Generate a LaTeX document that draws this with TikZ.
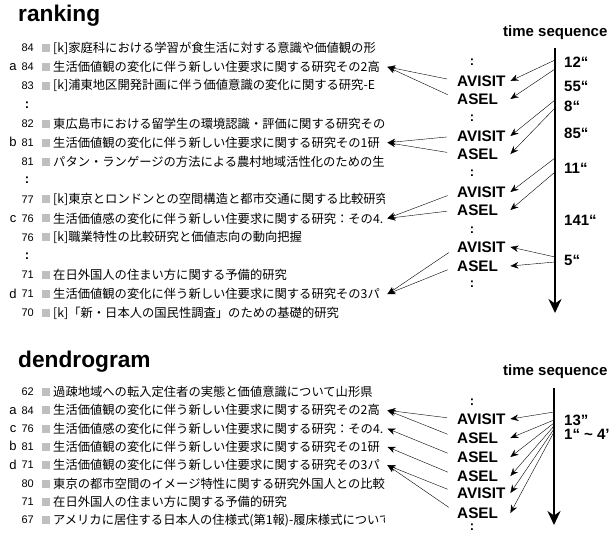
\documentclass[tikz,border=0pt]{standalone}
\usepackage{fontspec}
\setmainfont{Liberation Sans}
\newfontfamily\jp{Noto Sans CJK JP}
\usetikzlibrary{arrows.meta}

\providecommand*{\rankTop}{}
\providecommand*{\rankStep}{}
\providecommand*{\dendTop}{}
\providecommand*{\dendStep}{}
\renewcommand*{\rankTop}{48}
\renewcommand*{\rankStep}{18.93}
\renewcommand*{\dendTop}{392}
\renewcommand*{\dendStep}{18.3}

\tikzset{
  title/.style={anchor=base west,inner sep=0,font=\bfseries\fontsize{22.7}{26}\selectfont},
  header/.style={anchor=base west,inner sep=0,font=\bfseries\fontsize{15}{17}\selectfont},
  tag/.style={anchor=base,inner sep=0,font=\fontsize{13}{15}\selectfont},
  score/.style={anchor=east,inner sep=0,font=\fontsize{11}{12}\selectfont},
  sqbox/.style={inner sep=0,minimum size=8pt,fill=black!25},
  entry/.style={anchor=west,inner sep=0,font=\jp\fontsize{12.3}{14}\selectfont},
  gap/.style={inner sep=0,font=\bfseries\fontsize{13}{15}\selectfont},
  op/.style={anchor=west,inner sep=0,text width=53pt,align=left,font=\bfseries\fontsize{15.3}{17}\selectfont},
  delay/.style={anchor=west,inner sep=0,font=\bfseries\fontsize{15}{17}\selectfont},
  link/.style={thin,-{Stealth[length=8pt,width=6.5pt]}},
  back/.style={link,shorten <=10pt},
  axis/.style={line width=2.7pt,-{Stealth[length=14pt,width=13pt]}}
}

\begin{document}
\begin{tikzpicture}[x=1pt,y=-1pt]
  \useasboundingbox (0,0) rectangle (610,533);
  \node[title] (ranking) at (18,21) {ranking};
  \node[title] (dendrogram) at (18,367) {dendrogram};

  \begin{scope}
    \clip (0,0) rectangle (384,533);
    \foreach \k/\nr/\tx in {
      0/84/{[k]家庭科における学習が食生活に対する意識や価値観の形},
      1/84/{生活価値観の変化に伴う新しい住要求に関する研究その2高},
      2/83/{[k]浦東地区開発計画に伴う価値意識の変化に関する研究-E},
      4/82/{東広島市における留学生の環境認識・評価に関する研究その},
      5/81/{生活価値観の変化に伴う新しい住要求に関する研究その1研},
      6/81/{パタン・ランゲージの方法による農村地域活性化のための生活},
      8/77/{[k]東京とロンドンとの空間構造と都市交通に関する比較研究},
      9/76/{生活価値感の変化に伴う新しい住要求に関する研究：その4.},
      10/76/{[k]職業特性の比較研究と価値志向の動向把握},
      12/71/{在日外国人の住まい方に関する予備的研究},
      13/71/{生活価値観の変化に伴う新しい住要求に関する研究その3パ},
      14/70/{[k]「新・日本人の国民性調査」のための基礎的研究}} {
      \node[score] (rn\k) at (34,\rankTop+\rankStep*\k) {\nr};
      \node[sqbox] (rq\k) at (46,\rankTop+\rankStep*\k) {};
      \node[entry] (rk\k) at (53,\rankTop+\rankStep*\k) {\makebox[334pt][l]{\tx}};
    }
    \foreach \k/\nr/\tx in {
      0/62/{過疎地域への転入定住者の実態と価値意識について山形県},
      1/84/{生活価値観の変化に伴う新しい住要求に関する研究その2高},
      2/76/{生活価値感の変化に伴う新しい住要求に関する研究：その4.},
      3/81/{生活価値観の変化に伴う新しい住要求に関する研究その1研},
      4/71/{生活価値観の変化に伴う新しい住要求に関する研究その3パ},
      5/80/{東京の都市空間のイメージ特性に関する研究外国人との比較},
      6/71/{在日外国人の住まい方に関する予備的研究},
      7/67/{アメリカに居住する日本人の住様式(第1報)-履床様式について}} {
      \node[score] (dn\k) at (34,\dendTop+\dendStep*\k) {\nr};
      \node[sqbox] (dq\k) at (46,\dendTop+\dendStep*\k) {};
      \node[entry] (dg\k) at (53,\dendTop+\dendStep*\k) {\makebox[334pt][l]{\tx}};
    }
  \end{scope}

  \foreach \k in {3,7,11} {
    \node[gap] (rc\k) at (27,\rankTop+\rankStep*\k) {:};
  }
  \foreach \k/\lt in {1/a,5/b,9/c,13/d} {
    \node[tag] (rl\k) at (13,\rankTop+\rankStep*\k+4) {\lt};
  }
  \foreach \k/\lt in {1/a,2/c,3/b,4/d} {
    \node[tag] (dl\k) at (13,\dendTop+\dendStep*\k+4) {\lt};
  }

  % ranking time sequence
  \node[header] (seqA) at (503,36.5) {time sequence};
  \coordinate (axA) at (555,48);
  \coordinate (endA) at (555,313);
  \draw[axis] (axA) -- (endA);
  \foreach \nm/\tx/\y in {v1/AVISIT/81, s1/ASEL/99, v2/AVISIT/136, s2/ASEL/154,
                          v3/AVISIT/192, s3/ASEL/210, v4/AVISIT/247, s4/ASEL/266} {
    \node[op] (\nm) at (457,\y) {\tx};
  }
  \foreach \y [count=\i] in {62,118,173,230,284} {
    \node[gap] (ca\i) at (472,\y) {:};
  }
  \foreach \tx/\y [count=\i] in {12“/62, 55“/86, 8“/106, 85“/133, 11“/168, 141“/220, 5“/260} {
    \node[delay] (ta\i) at (564,\y) {\tx};
  }
  \foreach \y/\nm [count=\i] in {60/v1, 69/s1, 100/v2, 108/s2, 158/v3, 172/s3, 257/v4, 262/s4} {
    \coordinate (pa\i) at (555,\y);
    \draw[link] (pa\i) -- (\nm.east);
  }
  \foreach \a/\b in {v1/rk1, s1/rk1, v2/rk5, s2/rk5, v3/rk9, s3/rk9, v4/rk13, s4/rk13} {
    \draw[back] (\a.west) -- (\b.east);
  }

  % dendrogram time sequence
  \node[header] (seqB) at (503,375) {time sequence};
  \coordinate (axB) at (554,388);
  \coordinate (endB) at (554,525);
  \draw[axis] (axB) -- (endB);
  \foreach \nm/\tx/\y in {w1/AVISIT/419, e1/ASEL/438, e2/ASEL/457, e3/ASEL/476,
                          w2/AVISIT/493, e4/ASEL/513} {
    \node[op] (\nm) at (457,\y) {\tx};
  }
  \node[gap] (cb1) at (472,402) {:};
  \node[gap] (cb2) at (472,527) {:};
  \node[delay] (tb1) at (564,420) {13”};
  \node[delay] (tb2) at (564,434) {1“ \textasciitilde{} 4’};
  \foreach \y/\nm [count=\i] in {412/w1, 420/e1, 423/e2, 426/e3, 429/w2, 432/e4} {
    \coordinate (pb\i) at (554,\y);
    \draw[link] (pb\i) -- (\nm.east);
  }
  \foreach \a/\b in {w1/dg1, e1/dg1, e2/dg2, e3/dg3, w2/dg4, e4/dg4} {
    \draw[back] (\a.west) -- (\b.east);
  }
\end{tikzpicture}
\end{document}
